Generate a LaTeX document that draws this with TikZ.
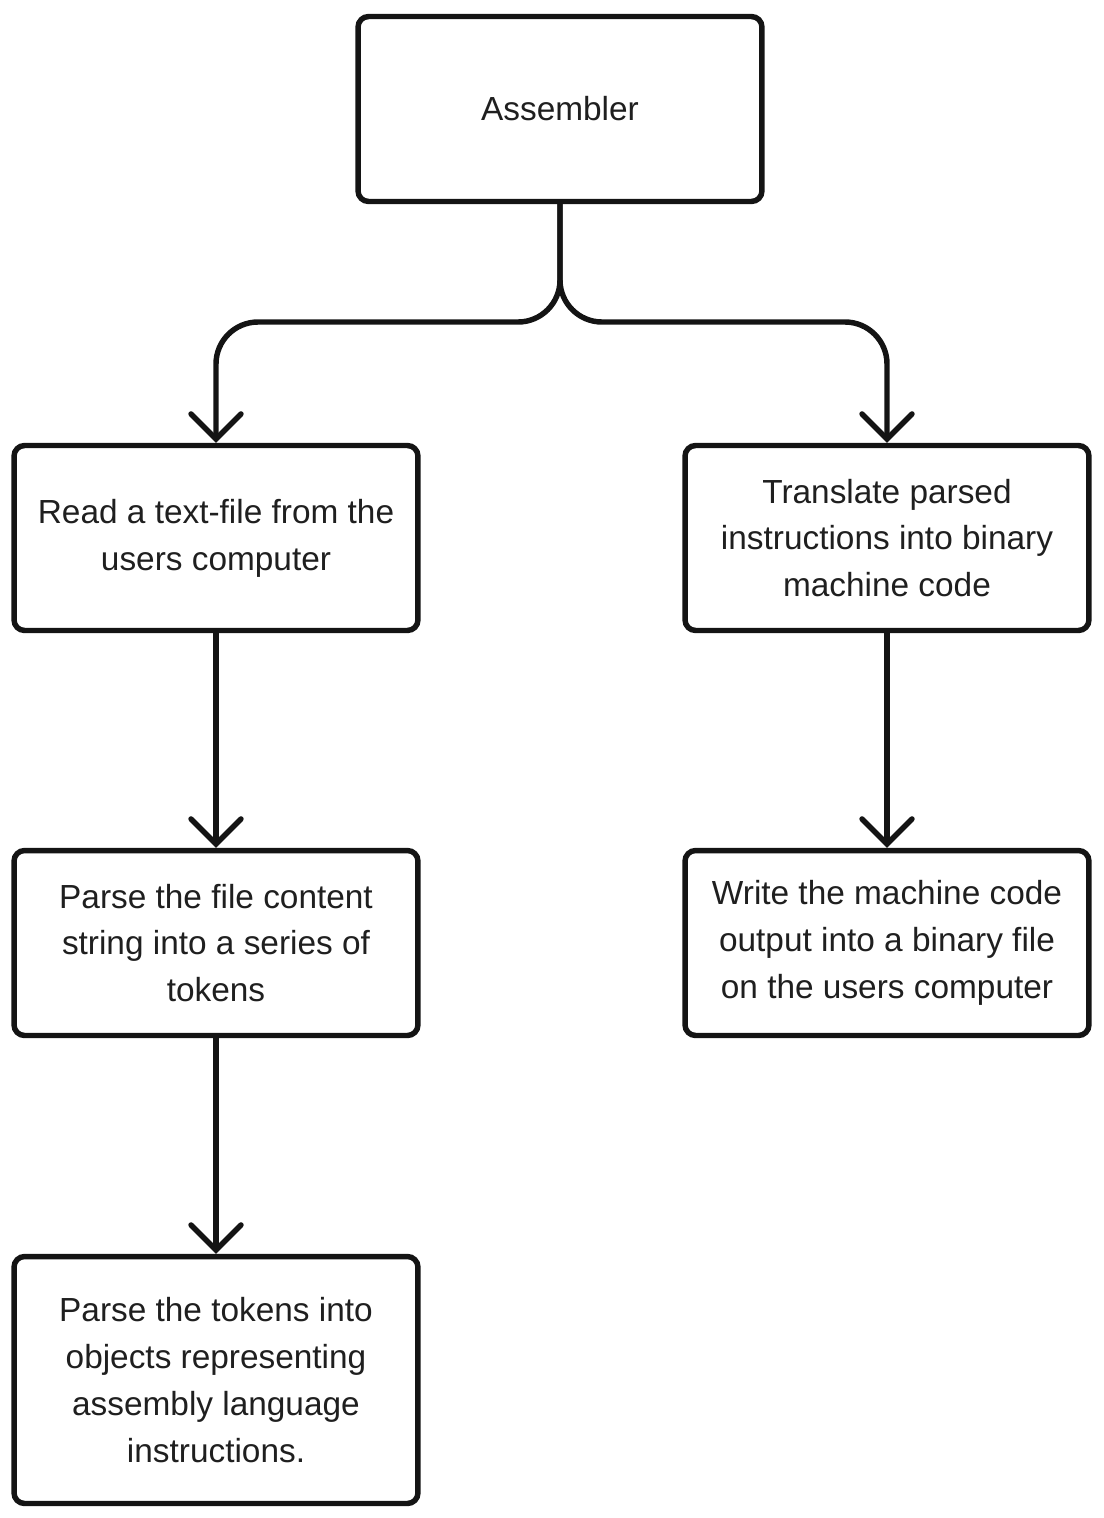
\documentclass[tikz,border=0pt]{standalone}
\usepackage{fontspec}
\setmainfont{Liberation Sans}
\usetikzlibrary{arrows.meta}
\tikzset{
  stepbox/.style={draw=black!92, line width=3.1pt, rounded corners=6pt, minimum width=8.08cm, minimum height=3.7cm, align=center, text=black!88, font=\fontsize{19}{26.7}\selectfont},
  flow/.style={draw=black!92, line width=3.1pt, line cap=round, line join=round, -{Straight Barb[length=0.5cm,width=1.0cm,line cap=round]}},
}
\begin{document}
\begin{tikzpicture}[x=0.02cm,y=-0.02cm]
\useasboundingbox (0,0) rectangle (1104,1518);
\node (asm) at (560,109) [stepbox]{Assembler};

\node (read) at (216,538) [stepbox]{Read a text-file from the\\users computer};
\node (lex) at (216,943) [stepbox]{Parse the file content\\string into a series of\\tokens};
\node (parse) at (216,1380) [stepbox, minimum height=4.94cm]{Parse the tokens into\\objects representing\\assembly language\\instructions.};

\node (trans) at (887,538) [stepbox]{Translate parsed\\instructions into binary\\machine code};
\node (write) at (887,943) [stepbox]{Write the machine code\\output into a binary file\\on the users computer};

% split below the assembler
\coordinate (lsplit) at (388,322);
\coordinate (rsplit) at (732,322);
\draw[flow, rounded corners=0.84cm] (asm.south) |- (lsplit) -| (read.north);
\draw[flow, rounded corners=0.84cm] (asm.south) |- (rsplit) -| (trans.north);

\draw[flow] (read) -- (lex);
\draw[flow] (lex) -- (parse);
\draw[flow] (trans) -- (write);
\end{tikzpicture}
\end{document}
